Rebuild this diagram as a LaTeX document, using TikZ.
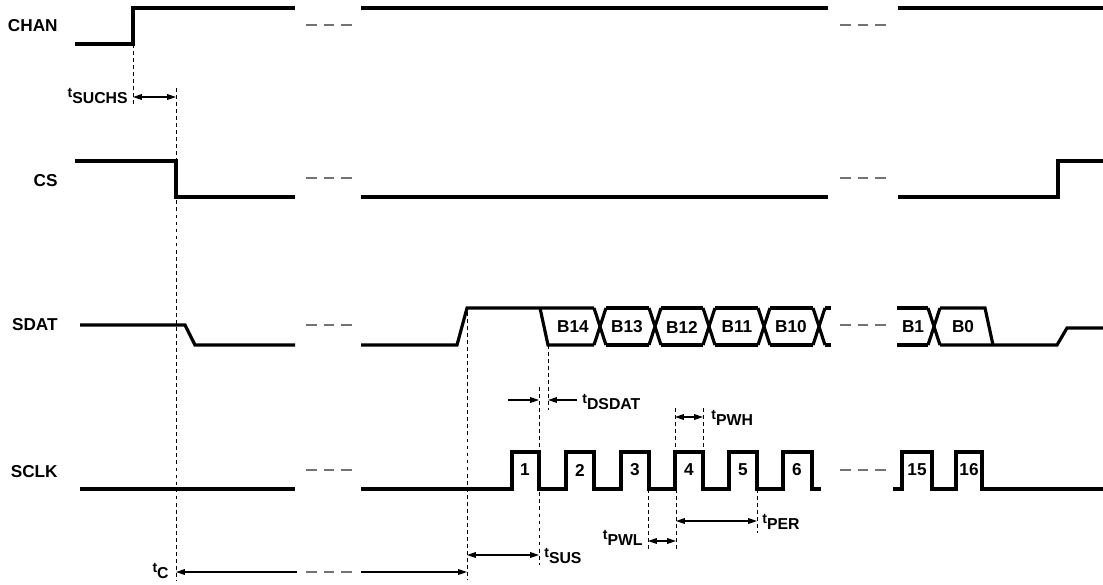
\documentclass[tikz,border=0pt]{standalone}
\usepackage{fontspec}
\setmainfont{Liberation Sans}
\usepackage{tikz}
\usetikzlibrary{arrows.meta}
\usetikzlibrary{positioning, calc}

\newcommand{\tlab}[1]{{\fontsize{8}{9}\selectfont t}\raisebox{-3.8pt}{\fontsize{9}{10}\selectfont #1}}

\begin{document}
\begin{tikzpicture}[x=0.02cm, y=-0.02cm,
    sig/.style={line width=1.8pt},
    brk/.style={black!55, line width=0.6pt, dash pattern=on 6pt off 4pt},
    guide/.style={line width=0.5pt, dash pattern=on 2.2pt off 1.8pt},
    dim/.style={line width=0.6pt, {Triangle[length=5pt,width=3.2pt]}-{Triangle[length=5pt,width=3.2pt]}},
    lbl/.style={font=\bfseries\fontsize{9.8}{11}\selectfont, inner sep=0pt}]
\useasboundingbox (0,0) rectangle (1103,585);

\foreach \y/\m in {26/CHAN, 181/CS, 325/SDAT, 472/SCLK}
    \node[lbl, anchor=east] (\m) at (58,\y) {\m};

\foreach \y in {25, 178, 325, 470}
    \draw[brk] (306,\y) -- (352,\y) (840,\y) -- (886,\y);

% CHAN and CS
\draw[sig] (75,44) -- (133,44) -- (133,8) -- (295,8);
\draw[sig] (361,8) -- (828,8);
\draw[sig] (898,8) -- (1103,8);

\draw[sig] (75,161) -- (176,161) -- (176,197) -- (295,197);
\draw[sig] (361,197) -- (828,197);
\draw[sig] (898,197) -- (1058,197) -- (1058,161) -- (1103,161);

% SDAT
\draw[sig] (80,325) -- (185,325) -- (195,345) -- (295,345);
\draw[sig] (361,345) -- (457,345) -- (467,308) -- (540,308) -- (594,308);
\draw[sig] (540,308) -- (548,345) -- (594,345);
\foreach \c in {600, 655, 709, 764, 819, 934}
    \draw[sig] (\c-6,308) -- (\c,326.5) -- (\c-6,345)
               (\c+6,308) -- (\c,326.5) -- (\c+6,345);
\foreach \a/\b in {606/649, 661/703, 715/758, 770/813, 825/831, 897/928}
    \draw[sig] (\a,308) -- (\b,308) (\a,345) -- (\b,345);
\draw[sig] (940,308) -- (985,308) -- (993,345);
\draw[sig] (940,345) -- (1057,345) -- (1067,328) -- (1103,328);

\foreach \x/\m in {573/B14, 627/B13, 682/B12, 737/B11, 791/B10, 913/B1, 963/B0}
    \node[lbl] (\m) at (\x,327) {\m};

% SCLK
\draw[sig] (80,489) -- (295,489);
\draw[sig] (361,489)
    \foreach \r/\f in {512/539, 566/594, 621/649, 675/703, 729/757, 783/812}
    { -- (\r,489) -- (\r,452) -- (\f,452) -- (\f,489) } -- (821,489);
\draw[sig] (893,489) -- (902,489) -- (902,452) -- (932,452) -- (932,489)
    -- (956,489) -- (956,452) -- (982,452) -- (982,489) -- (1103,489);

\foreach \x/\m in {525/1, 580/2, 635/3, 689/4, 743/5, 797/6, 917/15, 969/16}
    \node[lbl] (p\m) at (\x,470) {\m};

% guide lines
\foreach \x/\a/\b in {133/44/106, 176/88/580, 467/312/580, 548/345/410,
    539/387/565, 675/408/452, 703/408/452, 648/489/552, 676/489/552, 757/489/533}
    \draw[guide] (\x,\a) -- (\x,\b);

% timing arrows
\coordinate (s1) at (133,97);
\coordinate (s2) at (176,97);
\draw[dim] (s1) -- (s2);
\node[lbl, anchor=east] (tsuchs) at (128,96) {\tlab{SUCHS}};

\coordinate (c1) at (176,572);
\coordinate (c2) at (467,572);
\draw[line width=0.6pt, {Triangle[length=5pt,width=3.2pt]}-] (c1) -- (297,572);
\draw[brk] (306,572) -- (352,572);
\draw[line width=0.6pt, -{Triangle[length=5pt,width=3.2pt]}] (361,572) -- (c2);
\node[lbl, anchor=east] (tc) at (169,571) {\tlab{C}};

\coordinate (d1) at (539,400);
\coordinate (d2) at (548,400);
\draw[line width=0.6pt, -{Triangle[length=5pt,width=3.2pt]}] (508,400) -- (d1);
\draw[line width=0.6pt, -{Triangle[length=5pt,width=3.2pt]}] (577,400) -- (d2);
\node[lbl, anchor=west] (tdsdat) at (582,402) {\tlab{DSDAT}};

\coordinate (h1) at (675,417);
\coordinate (h2) at (703,417);
\draw[dim] (h1) -- (h2);
\node[lbl, anchor=west] (tpwh) at (711,418) {\tlab{PWH}};

\coordinate (l1) at (648,541);
\coordinate (l2) at (676,541);
\draw[dim] (l1) -- (l2);
\node[lbl, anchor=east] (tpwl) at (643,538) {\tlab{PWL}};

\coordinate (r1) at (676,521);
\coordinate (r2) at (757,521);
\draw[dim] (r1) -- (r2);
\node[lbl, anchor=west] (tper) at (762,522) {\tlab{PER}};

\coordinate (u1) at (467,555);
\coordinate (u2) at (539,555);
\draw[dim] (u1) -- (u2);
\node[lbl, anchor=west] (tsus) at (544,556) {\tlab{SUS}};

\end{tikzpicture}
\end{document}
